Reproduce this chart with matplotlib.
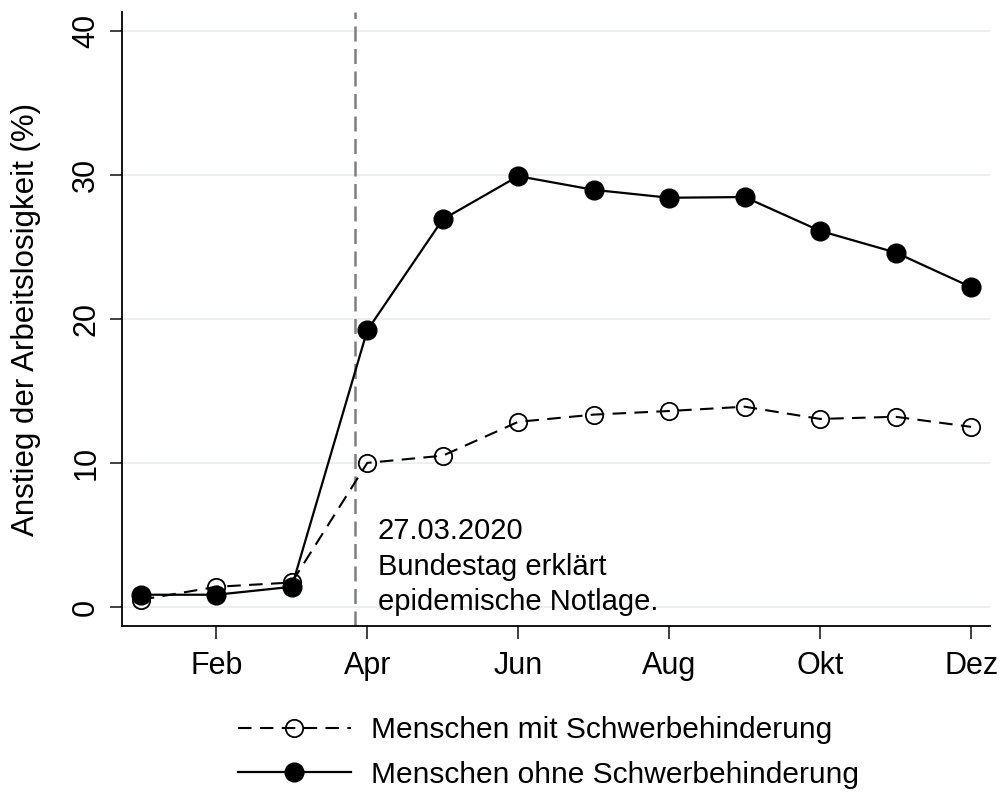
import numpy as np
import matplotlib.pyplot as plt

plt.rcParams['font.family'] = ['Liberation Sans', 'DejaVu Sans']

# Monate 1..12 (Jan..Dez)
monate = np.arange(1, 13)
tick_pos = [2, 4, 6, 8, 10, 12]
tick_labels = ['Feb', 'Apr', 'Jun', 'Aug', 'Okt', 'Dez']

# Anstieg der Arbeitslosigkeit (%)
mit_sb = [0.5, 1.4, 1.7, 10.0, 10.5, 12.85, 13.35, 13.6, 13.9, 13.05, 13.2, 12.5]
ohne_sb = [0.85, 0.85, 1.4, 19.2, 26.9, 29.9, 28.95, 28.4, 28.45, 26.1, 24.6, 22.2]

notlage = 3 + 26 / 31  # 27.03.2020

fig = plt.figure(figsize=(10.04, 7.92), dpi=100)
ax = fig.add_axes([0.1215, 0.2096, 0.8645, 0.7754])

ax.axvline(notlage, color='#7f7f7f', lw=1.8, ls=(0, (6, 3)), zorder=1)

ax.plot(monate, mit_sb, color='black', lw=1.5, ls=(0, (6.5, 4)),
        marker='o', ms=12.5, mfc='none', mec='black', mew=1.3,
        label='Menschen mit Schwerbehinderung', zorder=3)
ax.plot(monate, ohne_sb, color='black', lw=1.6, ls='-',
        marker='o', ms=13.5, mfc='black', mec='black',
        label='Menschen ohne Schwerbehinderung', zorder=4)

ax.text(4.14, 6.25, '27.03.2020\nBundestag erklärt\nepidemische Notlage.',
        fontsize=21, va='top', ha='left', linespacing=1.35)

ax.set_xlim(0.75, 12.25)
ax.set_ylim(-1.32, 41.3)
ax.set_xticks(tick_pos)
ax.set_xticklabels(tick_labels, fontsize=22)
ax.set_yticks([0, 10, 20, 30, 40])
ax.set_yticklabels(['0', '10', '20', '30', '40'], fontsize=22,
                   rotation=90, va='center')
ax.set_ylabel('Anstieg der Arbeitslosigkeit (%)', fontsize=22.5, labelpad=22)

ax.grid(axis='y', color='#e6eff1', lw=1.3)
ax.set_axisbelow(True)
ax.spines['top'].set_visible(False)
ax.spines['right'].set_visible(False)
for s in ['left', 'bottom']:
    ax.spines[s].set_linewidth(1.3)
ax.tick_params(length=9, width=1.3, pad=6, color='#333333')
ax.tick_params(axis='x', pad=9)

leg = fig.legend(loc='lower center', bbox_to_anchor=(0.546, -0.03), frameon=False,
                 fontsize=21.5, handlelength=3.8, labelspacing=0.55, handletextpad=0.65)

fig.savefig('out.png', dpi=100)
